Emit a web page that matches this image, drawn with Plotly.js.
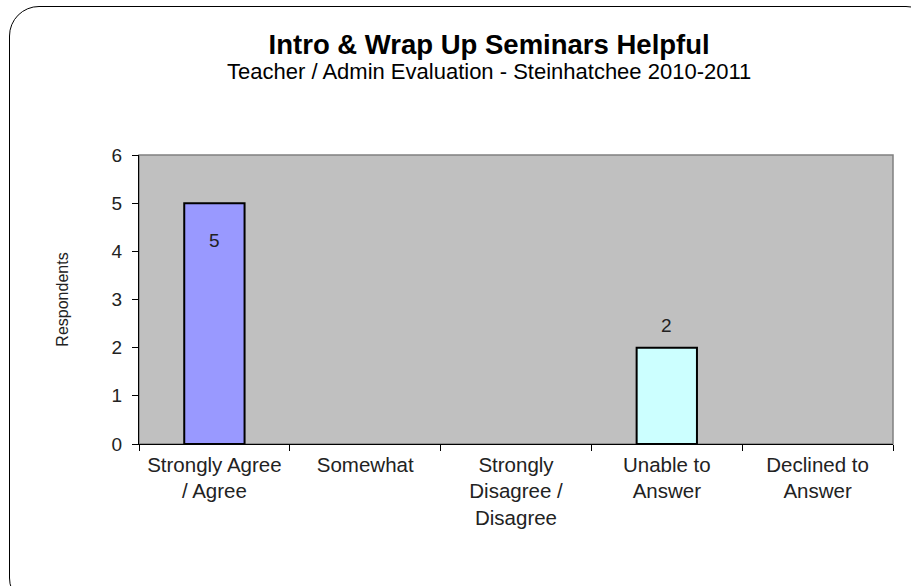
<!DOCTYPE html>
<html>
<head>
<meta charset="utf-8">
<script src="https://cdn.plot.ly/plotly-3.0.1.min.js"></script>
<style>
  html, body { margin: 0; padding: 0; background: #ffffff; overflow: hidden; }
  #wrap { position: relative; width: 911px; height: 586px; }
  #chart { position: absolute; left: 0; top: 0; width: 911px; height: 586px; }
  #frame { position: absolute; left: 9px; top: 6px; width: 925px; height: 600px;
           border: 1.5px solid #000; border-radius: 30px; pointer-events: none; }
</style>
</head>
<body>
<div id="wrap">
  <div id="chart"></div>
  <div id="frame"></div>
</div>
<script>
const categories = ["Strongly Agree<br>/ Agree", "Somewhat", "Strongly<br>Disagree /<br>Disagree", "Unable to<br>Answer", "Declined to<br>Answer"];
const values = [5, 0, 0, 2, 0];
const barColors = ["#9999FF", "#9999FF", "#9999FF", "#CCFFFF", "#CCFFFF"];
const titleText = "Intro & Wrap Up Seminars Helpful";
const subtitleText = "Teacher / Admin Evaluation - Steinhatchee 2010-2011";
const yTitle = "Respondents";

const FONT = "Liberation Sans, Arial, sans-serif";
const labelShift = [-37, 0, 0, 22, 0];

const trace = {
  type: "bar",
  x: categories,
  y: values,
  width: 0.4,
  marker: { color: barColors, line: { color: "#000", width: values.map(v => v === 0 ? 0 : 2) } },
  hoverinfo: "none"
};

const annotations = [
  { text: "<span style='font-size:27.5px'><b>" + titleText + "</b></span><br><span style='font-size:22px'>" + subtitleText + "</span>",
    xref: "paper", yref: "paper", x: (489 - 139) / 754, y: (444 - 56) / 289,
    showarrow: false, xanchor: "center", yanchor: "middle", align: "center",
    font: { family: FONT, size: 19, color: "#000" } }
];
values.forEach((v, i) => {
  if (v !== 0) {
    annotations.push({ text: String(v), x: categories[i], y: v, xref: "x", yref: "y",
      showarrow: false, yshift: labelShift[i], yanchor: "middle",
      font: { family: FONT, size: 19, color: "#222" } });
  }
});

const layout = {
  width: 911, height: 586,
  margin: { l: 139, r: 18, t: 155, b: 142, pad: 0 },
  paper_bgcolor: "#ffffff",
  plot_bgcolor: "#C0C0C0",
  showlegend: false,
  font: { family: FONT, size: 20, color: "#222" },
  xaxis: {
    type: "category",
    showgrid: false, zeroline: false,
    showline: true, linecolor: "#000", linewidth: 1,
    ticks: "outside", tickson: "boundaries", ticklen: 6, tickcolor: "#000",
    tickfont: { family: FONT, size: 20.5, color: "#222" },
    ticklabelstandoff: 2,
    fixedrange: true
  },
  yaxis: {
    range: [0, 6], dtick: 1,
    showgrid: false, zeroline: false,
    showline: true, linecolor: "#000", linewidth: 1,
    ticks: "outside", ticklen: 6, tickcolor: "#000",
    tickfont: { family: FONT, size: 19, color: "#222" },
    ticklabelstandoff: 6,
    title: { text: yTitle, font: { family: FONT, size: 16, color: "#222" }, standoff: 39 },
    fixedrange: true
  },
  shapes: [
    { type: "rect", xref: "paper", yref: "paper", x0: 0, x1: 1, y0: 0, y1: 1,
      line: { color: "#808080", width: 1.5 }, layer: "below" }
  ],
  annotations: annotations
};

Plotly.newPlot("chart", [trace], layout, { displayModeBar: false, staticPlot: true });
</script>
</body>
</html>
